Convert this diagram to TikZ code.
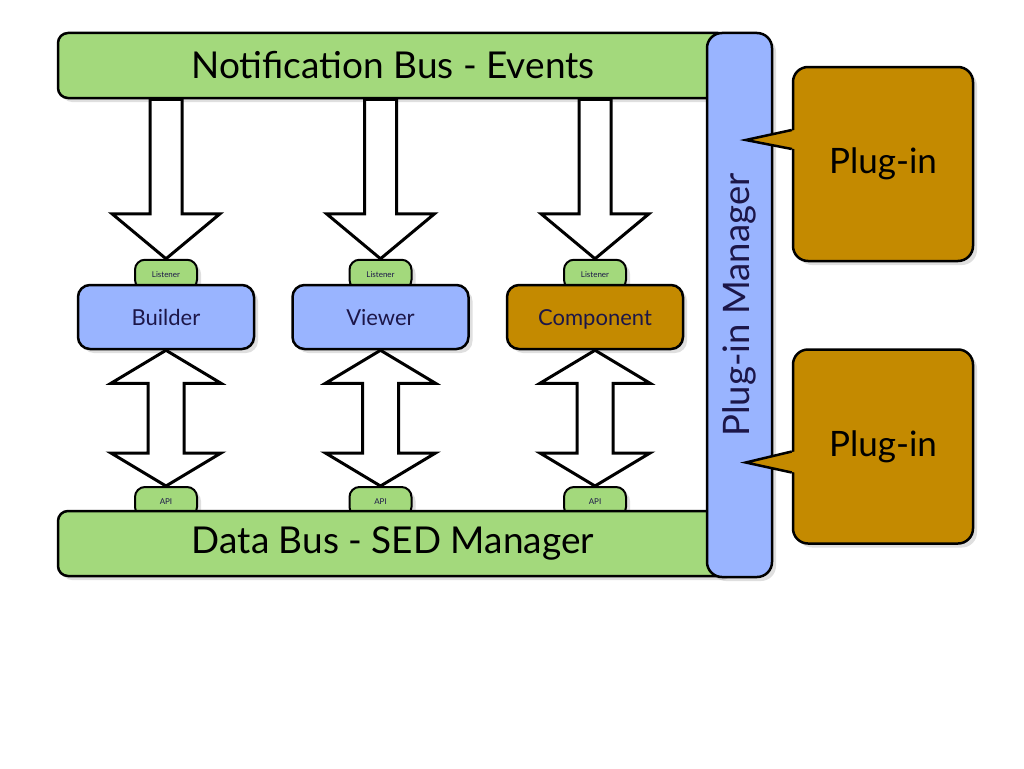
\documentclass[tikz,border=0pt]{standalone}
\usepackage{fontspec}
\setmainfont{Lato}
\usetikzlibrary{positioning, calc, shadows, backgrounds}
\definecolor{busgreen}{RGB}{163,217,124}
\definecolor{boxblue}{RGB}{153,180,255}
\definecolor{plugold}{RGB}{196,138,0}
\definecolor{inkblue}{RGB}{28,22,72}
\tikzset{
  softshadow/.style={drop shadow={shadow xshift=4pt, shadow yshift=-4pt, opacity=0.25}},
  bus/.style={rectangle, rounded corners=10pt, draw=black, line width=2.5pt, fill=busgreen,
              minimum width=670pt, minimum height=65pt, font=\fontsize{37}{42}\selectfont, softshadow},
  comp/.style={rectangle, rounded corners=12pt, draw=black, line width=2.5pt, fill=boxblue,
               minimum width=176pt, minimum height=64pt, text height=18pt, text depth=2pt,
               text=inkblue, font=\fontsize{22}{26}\selectfont, softshadow},
  tab/.style={rectangle, rounded corners=10pt, draw=black, line width=2pt, fill=busgreen,
              minimum width=62pt, minimum height=30pt, text=inkblue, font=\fontsize{8}{9}\selectfont, softshadow},
  mgr/.style={rectangle, rounded corners=15pt, draw=black, line width=2.5pt, fill=boxblue,
              minimum width=65pt, minimum height=544pt, softshadow},
  plug/.style={rectangle, rounded corners=15pt, draw=black, line width=2.5pt, fill=plugold,
               minimum width=180pt, minimum height=194pt, font=\fontsize{35}{40}\selectfont, softshadow},
  fatarrow/.style={draw=black, line width=3pt, fill=white, line join=miter},
}
\begin{document}
\begin{tikzpicture}[x=1pt, y=-1pt]
  \useasboundingbox (0,0) rectangle (1024,768);

  \node[bus] (nbus) at (393,65.5) {Notification Bus - Events};
  \node[bus] (dbus) at (393,543.5) {Data Bus - SED Manager};

  \node[comp] (builder) at (166,317) {Builder};
  \node[comp, right=36pt of builder] (viewer) {Viewer};
  \node[comp, right=36pt of viewer, fill=plugold] (component) {Component};

  \begin{pgfonlayer}{background}
    \node[tab, above=-7pt of builder]   (lst1) {Listener};
    \node[tab, above=-7pt of viewer]    (lst2) {Listener};
    \node[tab, above=-7pt of component] (lst3) {Listener};
    \node[tab] (api1) at (builder |- 0,502)   {API};
    \node[tab] (api2) at (viewer |- 0,502)    {API};
    \node[tab] (api3) at (component |- 0,502) {API};
  \end{pgfonlayer}

  \node[mgr] (mgr) at (739.5,305) {};
  \node[rotate=90, text=inkblue, font=\fontsize{36.5}{42}\selectfont] (mgrtext) at (mgr.center) {Plug-in Manager};

  \node[plug] (plug1) at (883,164) {Plug-in};
  \node[plug, below=86pt of plug1] (plug2) {Plug-in};

  % callout pointers into the manager
  \coordinate (tip1) at ($(plug1.west)+(-46,-24)$);
  \coordinate (tip2) at ($(plug2.west)+(-46,16)$);
  \fill[plugold] ($(plug1.west)+(3,-34)$) -- (tip1) -- ($(plug1.west)+(3,-15)$) -- cycle;
  \draw[line width=2.5pt] ($(plug1.west)+(0,-34)$) -- (tip1) -- ($(plug1.west)+(0,-15)$);
  \fill[plugold] ($(plug2.west)+(3,5)$) -- (tip2) -- ($(plug2.west)+(3,26)$) -- cycle;
  \draw[line width=2.5pt] ($(plug2.west)+(0,5)$) -- (tip2) -- ($(plug2.west)+(0,26)$);

  % events down to the listeners
  \draw[fatarrow] (lst1.north) -- ++(-54,-45) -- ++(38,0) |- ($(lst1.north |- nbus.south)+(16,0)$) |- ($(lst1.north)+(54,-45)$) -- cycle;
  \draw[fatarrow] (lst2.north) -- ++(-54,-45) -- ++(38,0) |- ($(lst2.north |- nbus.south)+(16,0)$) |- ($(lst2.north)+(54,-45)$) -- cycle;
  \draw[fatarrow] (lst3.north) -- ++(-54,-45) -- ++(38,0) |- ($(lst3.north |- nbus.south)+(16,0)$) |- ($(lst3.north)+(54,-45)$) -- cycle;

  % data both ways through the APIs
  \draw[fatarrow] (builder.south) -- ++(55,33) -- ++(-37,0) -- ($(api1.north)+(18,-33)$) -- ++(37,0) -- (api1.north)
    -- ++(-55,-33) -- ++(37,0) -- ($(builder.south)+(-18,33)$) -- ++(-37,0) -- cycle;
  \draw[fatarrow] (viewer.south) -- ++(55,33) -- ++(-37,0) -- ($(api2.north)+(18,-33)$) -- ++(37,0) -- (api2.north)
    -- ++(-55,-33) -- ++(37,0) -- ($(viewer.south)+(-18,33)$) -- ++(-37,0) -- cycle;
  \draw[fatarrow] (component.south) -- ++(55,33) -- ++(-37,0) -- ($(api3.north)+(18,-33)$) -- ++(37,0) -- (api3.north)
    -- ++(-55,-33) -- ++(37,0) -- ($(component.south)+(-18,33)$) -- ++(-37,0) -- cycle;
\end{tikzpicture}
\end{document}
